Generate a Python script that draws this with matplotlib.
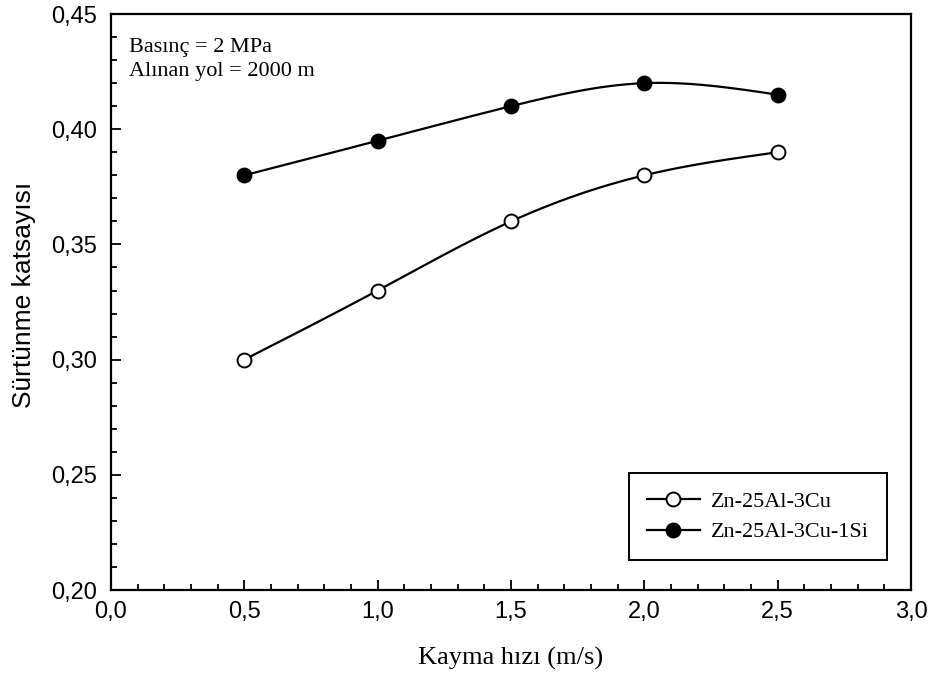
import numpy as np
import matplotlib.pyplot as plt
from matplotlib.ticker import MultipleLocator, FuncFormatter

# data
hiz = np.array([0.5, 1.0, 1.5, 2.0, 2.5])          # Kayma hizi (m/s)
cu = np.array([0.30, 0.33, 0.36, 0.38, 0.39])       # Zn-25Al-3Cu
cusi = np.array([0.38, 0.395, 0.41, 0.42, 0.415])   # Zn-25Al-3Cu-1Si


def spline(x, y, n=200):
    # natural cubic spline, for the smooth connecting line
    k = len(x)
    h = np.diff(x)
    A = np.zeros((k, k))
    r = np.zeros(k)
    A[0, 0] = A[-1, -1] = 1
    for i in range(1, k - 1):
        A[i, i - 1] = h[i - 1]
        A[i, i] = 2 * (h[i - 1] + h[i])
        A[i, i + 1] = h[i]
        r[i] = 6 * ((y[i + 1] - y[i]) / h[i] - (y[i] - y[i - 1]) / h[i - 1])
    m = np.linalg.solve(A, r)
    xs = np.linspace(x[0], x[-1], n)
    idx = np.clip(np.searchsorted(x, xs) - 1, 0, k - 2)
    t0 = x[idx]
    t1 = x[idx + 1]
    hh = t1 - t0
    ys = (m[idx] * (t1 - xs) ** 3 / (6 * hh) + m[idx + 1] * (xs - t0) ** 3 / (6 * hh)
          + (y[idx] / hh - m[idx] * hh / 6) * (t1 - xs)
          + (y[idx + 1] / hh - m[idx + 1] * hh / 6) * (xs - t0))
    return xs, ys


fig = plt.figure(figsize=(9.31, 6.84), dpi=100)
ax = fig.add_axes([0.1192, 0.1374, 0.8593, 0.8421])

ms = 10
xs, ys = spline(hiz, cu)
ax.plot(xs, ys, color='black', lw=1.6)
ax.plot(hiz, cu, 'o', ms=ms, mfc='white', mec='black', mew=1.4)
xs, ys = spline(hiz, cusi)
ax.plot(xs, ys, color='black', lw=1.6)
ax.plot(hiz, cusi, 'o', ms=ms, mfc='black', mec='black', mew=1.4)

# legend handles
ax.plot([], [], '-o', color='black', lw=1.6, ms=ms, mfc='white', mew=1.4, label='Zn-25Al-3Cu')
ax.plot([], [], '-o', color='black', lw=1.6, ms=ms, mfc='black', mew=1.4, label='Zn-25Al-3Cu-1Si')

ax.set_xlim(0, 3.0)
ax.set_ylim(0.20, 0.45)
ax.xaxis.set_major_locator(MultipleLocator(0.5))
ax.xaxis.set_minor_locator(MultipleLocator(0.1))
ax.yaxis.set_major_locator(MultipleLocator(0.05))
ax.yaxis.set_minor_locator(MultipleLocator(0.01))
ax.xaxis.set_major_formatter(FuncFormatter(lambda v, p: f'{v:.1f}'.replace('.', ',')))
ax.yaxis.set_major_formatter(FuncFormatter(lambda v, p: f'{v:.2f}'.replace('.', ',')))
ax.tick_params(which='both', direction='in', top=False, right=False, width=1.3)
ax.tick_params(which='major', length=7, labelsize=17)
ax.tick_params(axis='x', which='major', pad=8)
ax.tick_params(axis='y', which='major', pad=10)
ax.tick_params(which='minor', length=4)
for lab in ax.get_xticklabels() + ax.get_yticklabels():
    lab.set_family('Liberation Sans')
for s in ax.spines.values():
    s.set_linewidth(1.6)

ax.set_xlabel('Kayma hızı (m/s)', family='Liberation Serif', fontsize=19, labelpad=17)
ax.set_ylabel('Sürtünme katsayısı', family='Liberation Sans', fontsize=19)
ax.yaxis.set_label_coords(-0.094, 0.512)

ax.text(0.022, 0.958, 'Basınç = 2 MPa\nAlınan yol = 2000 m', transform=ax.transAxes,
        family='Liberation Serif', fontsize=16, va='top', ha='left', linespacing=1.35)

leg = ax.legend(loc='lower right', bbox_to_anchor=(0.97, 0.052), borderaxespad=0,
                fancybox=False, edgecolor='black', framealpha=1, borderpad=0.8,
                handlelength=2.4, handletextpad=0.5, labelspacing=0.45,
                prop={'family': 'Liberation Serif', 'size': 16})
leg.get_frame().set_linewidth(1.4)

fig.savefig('out.png', dpi=100)
